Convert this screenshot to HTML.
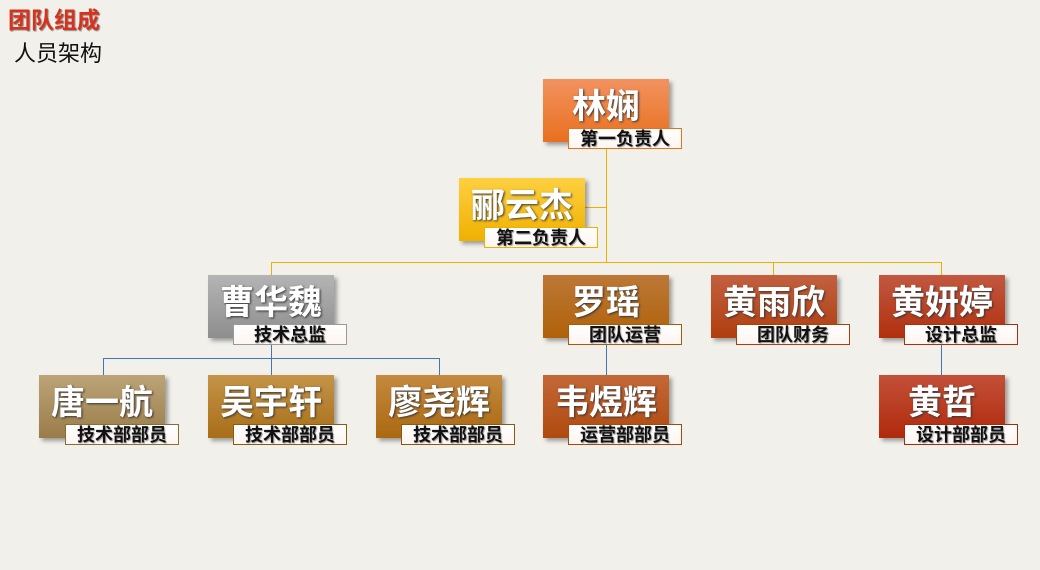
<!DOCTYPE html>
<html><head><meta charset="utf-8"><style>
*{margin:0;padding:0;box-sizing:border-box}
body{width:1040px;height:570px;background:#f2f0eb;position:relative;overflow:hidden;font-family:"Liberation Sans","Noto Sans CJK SC",sans-serif}
.t1{position:absolute;left:8px;top:1px;font-size:23px;font-weight:bold;color:#d8321c;text-shadow:1px 1px 1px #888}
.t2{position:absolute;left:14px;top:36px;font-size:22px;color:#111}
.b{position:absolute;width:126px;height:63px;box-shadow:3px 3px 4px rgba(0,0,0,.35);color:#fff;font-size:34px;font-weight:bold;text-align:center;line-height:56px;text-shadow:1px 1px 2px #333}
.l{position:absolute;width:114px;height:21px;background:linear-gradient(#fff,#fdf5f0);border:1px solid #c06020;font-size:18px;font-weight:bold;color:#111;text-align:center;line-height:20px;text-shadow:1px 1px 1px #999}
.ln{position:absolute}
</style></head><body>
<div class="t1">团队组成</div>
<div class="t2">人员架构</div>

<div class="ln" style="left:606px;top:149px;width:1px;height:113px;background:#f0b000"></div>
<div class="ln" style="left:585px;top:207px;width:21px;height:1px;background:#f0b000"></div>
<div class="ln" style="left:271px;top:262px;width:671px;height:1px;background:#f0b000"></div>
<div class="ln" style="left:271px;top:262px;width:1px;height:13px;background:#f0b000"></div>
<div class="ln" style="left:773px;top:262px;width:1px;height:13px;background:#f0b000"></div>
<div class="ln" style="left:941px;top:262px;width:1px;height:13px;background:#f0b000"></div>
<div class="ln" style="left:271px;top:345px;width:1px;height:30px;background:#4472c4"></div>
<div class="ln" style="left:103px;top:358px;width:337px;height:1px;background:#4472c4"></div>
<div class="ln" style="left:103px;top:358px;width:1px;height:17px;background:#4472c4"></div>
<div class="ln" style="left:439px;top:358px;width:1px;height:17px;background:#4472c4"></div>
<div class="ln" style="left:606px;top:345px;width:1px;height:30px;background:#4472c4"></div>
<div class="ln" style="left:941px;top:345px;width:1px;height:30px;background:#4472c4"></div>

<div class="b" style="left:543px;top:79px;background:linear-gradient(#f29260,#e8701e)">林娴</div>
<div class="l" style="left:568px;top:128px;border-color:#e8701e">第一负责人</div>

<div class="b" style="left:459px;top:178px;background:linear-gradient(#fdd040,#f0b000)">郦云杰</div>
<div class="l" style="left:484px;top:227px;border-color:#f0b000">第二负责人</div>

<div class="b" style="left:208px;top:275px;background:linear-gradient(#b4b4b4,#8e8e8e)">曹华魏</div>
<div class="l" style="left:233px;top:324px;border-color:#999">技术总监</div>

<div class="b" style="left:543px;top:275px;background:linear-gradient(#bc7838,#b06208)">罗瑶</div>
<div class="l" style="left:568px;top:324px;border-color:#a85a10">团队运营</div>

<div class="b" style="left:711px;top:275px;background:linear-gradient(#c26040,#b03e0e)">黄雨欣</div>
<div class="l" style="left:736px;top:324px;border-color:#a8400e">团队财务</div>

<div class="b" style="left:879px;top:275px;background:linear-gradient(#c25840,#b0300e)">黄妍婷</div>
<div class="l" style="left:904px;top:324px;border-color:#a8300e">设计总监</div>

<div class="b" style="left:39px;top:375px;background:linear-gradient(#bca478,#9a7c48)">唐一航</div>
<div class="l" style="left:65px;top:424px;border-color:#8a6c38">技术部部员</div>

<div class="b" style="left:208px;top:375px;background:linear-gradient(#c49448,#a86e18)">吴宇轩</div>
<div class="l" style="left:233px;top:424px;border-color:#8a5c10">技术部部员</div>

<div class="b" style="left:376px;top:375px;background:linear-gradient(#c48a40,#aa6810)">廖尧辉</div>
<div class="l" style="left:401px;top:424px;border-color:#8a5810">技术部部员</div>

<div class="b" style="left:543px;top:375px;background:linear-gradient(#c26838,#b04a0e)">韦煜辉</div>
<div class="l" style="left:568px;top:424px;border-color:#a8480e">运营部部员</div>

<div class="b" style="left:879px;top:375px;background:linear-gradient(#c25038,#b02a0c)">黄哲</div>
<div class="l" style="left:904px;top:424px;border-color:#a82a0c">设计部部员</div>
</body></html>
